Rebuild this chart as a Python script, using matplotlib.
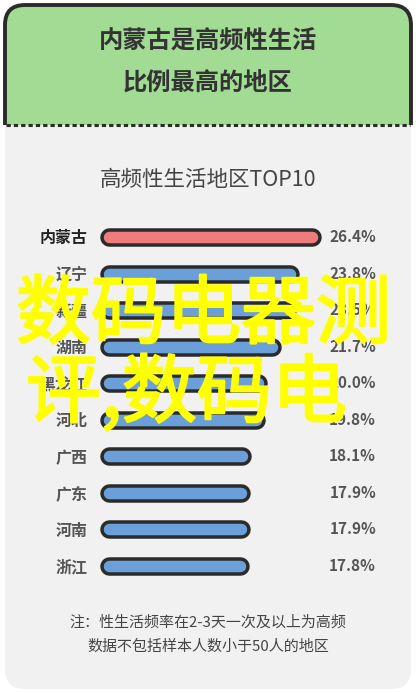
import numpy as np
import matplotlib
matplotlib.use('Agg')
from matplotlib import pyplot as plt
from matplotlib import patheffects as pe
from matplotlib.patches import FancyBboxPatch, Rectangle

plt.rcParams['font.family'] = ['Noto Sans CJK SC', 'DejaVu Sans']

regions = ['内蒙古', '辽宁', '新疆', '湖南', '黑龙江', '河北', '广西', '广东', '河南', '浙江']
shares = [26.4, 23.8, 23.5, 21.7, 20.0, 19.8, 18.1, 17.9, 17.9, 17.8]
value_labels = ['26.4%', '23.8%', '23.5%', '21.7%', '20.0%', '19.8%', '18.1%', '17.9%', '17.9%', '17.8%']

HEADER = ['内蒙古是高频性生活', '比例最高的地区']
CHART_TITLE = '高频性生活地区TOP10'
NOTES = ['注：性生活频率在2-3天一次及以上为高频', '数据不包括样本人数小于50人的地区']
WATERMARK = ['数码电器测', '评,数码电']

W, H = 416, 693
DARK = '#2b2b2b'
GREEN = '#a2dc94'
GREY = '#f1f1f1'
RED = '#f07b7b'
BLUE = '#6b9fd9'

fig = plt.figure(figsize=(W / 100, H / 100), dpi=100)
fig.patch.set_facecolor('white')

# background card, drawn in pixel units
bg = fig.add_axes([0, 0, 1, 1])
bg.set_xlim(0, W)
bg.set_ylim(H, 0)
bg.axis('off')

body = FancyBboxPatch((5, 5), 406, 684, boxstyle='round,pad=0,rounding_size=20',
                      fc=GREY, ec='none')
bg.add_patch(body)
head = FancyBboxPatch((5, 5), 406, 200, boxstyle='round,pad=0,rounding_size=20',
                      fc=GREEN, ec=DARK, lw=2.8)
bg.add_patch(head)
head.set_clip_path(Rectangle((0, 0), W, 125, transform=bg.transData))
bg.plot([6, 410], [125, 125], color=DARK, lw=2.2, dashes=(1.4, 1.0))

bg.text(W / 2, 42, HEADER[0], ha='center', va='center', fontsize=17.5,
        fontweight='heavy', color='#333333')
bg.text(W / 2, 83, HEADER[1], ha='center', va='center', fontsize=17.5,
        fontweight='heavy', color='#333333')
bg.text(W / 2, 180, CHART_TITLE, ha='center', va='center', fontsize=15.5, color='#444444')
bg.text(W / 2, 623, NOTES[0], ha='center', va='center', fontsize=10.8, color='#444444')
bg.text(W / 2, 647, NOTES[1], ha='center', va='center', fontsize=10.8, color='#444444')

# bar chart
ax_left, ax_w = 100, 251
ax_top, ax_bot = 218.7, 584.3
ax = fig.add_axes([ax_left / W, 1 - ax_bot / H, ax_w / W, (ax_bot - ax_top) / H])
ax.set_facecolor('none')
xmax = 30
ax.set_xlim(0, xmax)
ax.set_ylim(len(regions) - 0.5, -0.5)
for s in ax.spines.values():
    s.set_visible(False)
ax.set_xticks([])

px = ax_w / xmax
outer_px, inner_px = 18.5, 11.5
rows = np.arange(len(regions))
vals = np.array(shares)
colors = [RED] + [BLUE] * (len(regions) - 1)

cap_o = outer_px / 2 / px
ax.hlines(rows, cap_o, vals - cap_o, colors=DARK, lw=outer_px * 0.72, capstyle='round')
ax.hlines(rows, cap_o, vals - cap_o, colors=colors, lw=inner_px * 0.72, capstyle='round')

ax.set_yticks(rows)
ax.set_yticklabels(regions, fontsize=11.5, fontweight='bold')
ax.tick_params(axis='y', length=0, pad=9)
for i, t in enumerate(ax.get_yticklabels()):
    t.set_color('#222222' if i == 0 else '#555555')

for i, lab in enumerate(value_labels):
    ax.text(1.1, i, lab, transform=ax.get_yaxis_transform(), ha='right', va='center',
            fontsize=11, fontweight='bold', color='#555555', clip_on=False)

# watermark overlay
wm = fig.add_axes([0, 0, 1, 1])
wm.set_xlim(0, W)
wm.set_ylim(H, 0)
wm.axis('off')
thick = [pe.Stroke(linewidth=1.6, foreground='#ffff00'), pe.Normal()]
wm.text(16, 316, WATERMARK[0], ha='left', va='center', fontsize=54,
        color='#ffff00', path_effects=thick)
wm.text(26, 395, WATERMARK[1], ha='left', va='center', fontsize=54,
        color='#ffff00', path_effects=thick)

fig.savefig('out.png', dpi=100)
